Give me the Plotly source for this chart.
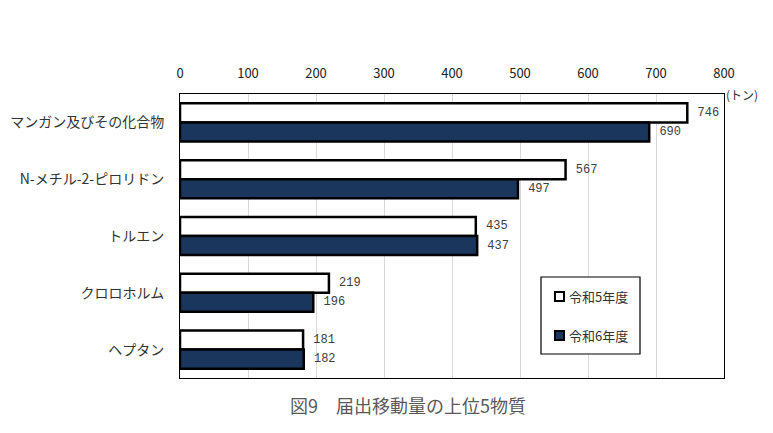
import plotly.graph_objects as go

categories = ["マンガン及びその化合物", "N-メチル-2-ピロリドン", "トルエン", "クロロホルム", "ヘプタン"]
r5_values = [746, 567, 435, 219, 181]
r6_values = [690, 497, 437, 196, 182]
series_names = ["令和5年度", "令和6年度"]
series_colors = ["white", "#1b365d"]
tick_vals = [0, 100, 200, 300, 400, 500, 600, 700, 800]

JP = "Noto Sans CJK JP"
LBL = dict(family="Liberation Mono", size=12, color="#404040")

fig = go.Figure()
for name, vals, col in zip(series_names, [r5_values, r6_values], series_colors):
    fig.add_trace(go.Bar(
        y=categories, x=vals, orientation="h", name=name,
        marker=dict(color=col, line=dict(color="black", width=2.5)),
        text=[" " + str(v) for v in vals], textposition="outside",
        textfont=LBL, cliponaxis=False, showlegend=False,
    ))

fig.update_layout(
    width=773, height=433,
    margin=dict(l=172, r=57, t=86, b=63, autoexpand=False),
    paper_bgcolor="white", plot_bgcolor="white",
    barmode="group", bargap=0.33, bargroupgap=0,
    font=dict(family=JP, size=12, color="#222222"),
    showlegend=False,
)
fig.update_xaxes(
    side="top", range=[0, 800], tickvals=tick_vals,
    ticktext=[str(v) for v in tick_vals],
    showgrid=True, gridcolor="#d9d9d9", gridwidth=1,
    zeroline=False, showline=True, linecolor="black", linewidth=1, mirror=True,
    ticks="", ticklabelstandoff=10,
    tickfont=dict(family=JP, size=13, color="#222222"),
)
fig.update_yaxes(
    autorange="reversed", showline=True, linecolor="black", linewidth=1, mirror=True,
    ticks="", ticklabelstandoff=12,
    tickfont=dict(family=JP, size=14, color="#333333"),
)

# legend drawn as box + swatches + labels (paper coordinates)
fig.add_shape(type="rect", xref="paper", yref="paper",
              x0=0.6636, x1=0.8456, y0=0.0845, y1=0.3556,
              line=dict(color="black", width=1.2), fillcolor="white", layer="above")
sw_y = [(0.2711, 0.3028), (0.1338, 0.1655)]
txt_y = [0.287, 0.1496]
for name, col, (ya, yb), ty in zip(series_names, series_colors, sw_y, txt_y):
    fig.add_shape(type="rect", xref="paper", yref="paper",
                  x0=0.6893, x1=0.7059, y0=ya, y1=yb,
                  line=dict(color="black", width=2), fillcolor=col, layer="above")
    fig.add_annotation(xref="paper", yref="paper", x=0.7114, y=ty,
                       xanchor="left", yanchor="middle", text=name, showarrow=False,
                       font=dict(family=JP, size=13, color="#333333"))

fig.add_annotation(
    xref="paper", yref="paper", x=1.0, y=1.0, xanchor="left", yanchor="middle",
    text="(トン)", showarrow=False, font=dict(family=JP, size=12, color="#333333"),
)
fig.add_annotation(
    xref="paper", yref="paper", x=0.42, y=-0.095, xanchor="center", yanchor="middle",
    text="図9　届出移動量の上位5物質", showarrow=False,
    font=dict(family=JP, size=18, color="#595959"),
)
fig.write_html("out.html")
